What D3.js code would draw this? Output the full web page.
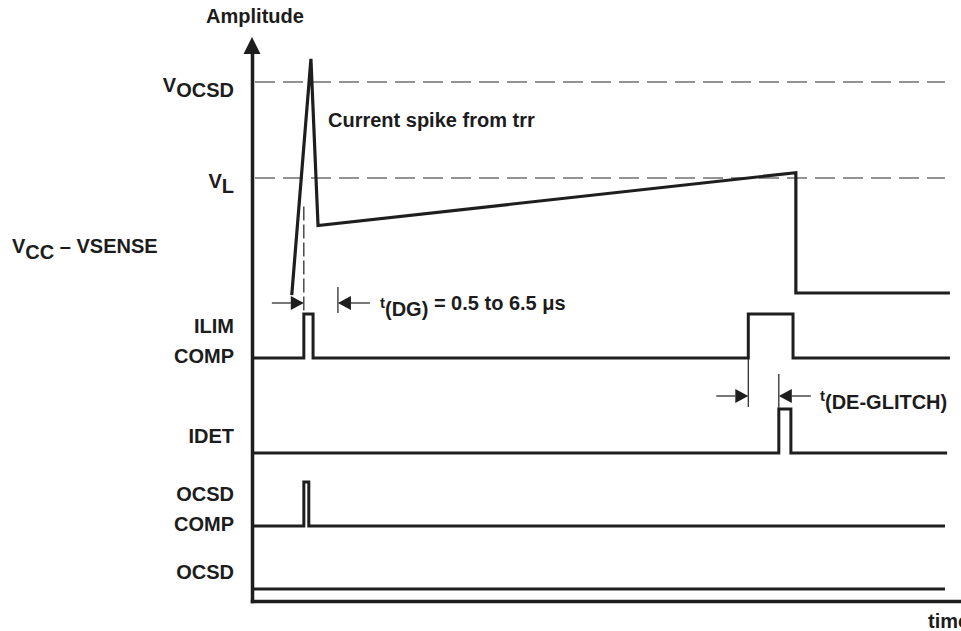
<!DOCTYPE html>
<html>
<head>
<meta charset="utf-8">
<script src="https://cdn.jsdelivr.net/npm/d3@7"></script>
<style>
  body { margin: 0; background: #fff; }
  text { font-family: "Liberation Sans", Arial, sans-serif; font-weight: bold; fill: #1c1c1c; }
</style>
</head>
<body>
<svg id="chart"></svg>
<script>
// time runs 0..100 (arbitrary units), amplitude 0..1 where 1 = VOCSD
const vSense = [[5.6, -0.01], [8.3, 1.11], [9.3, 0.32], [76.6, 0.57], [76.6, 0], [98.3, 0]]
const thresholds = [{ main: 'V', sub: 'OCSD', level: 1 }, { main: 'V', sub: 'L', level: 0.545 }]

// digital traces: [time, 0/1]
const ilimComp = [[0, 0], [7.3, 1], [8.6, 0], [69.9, 1], [76.2, 0], [98.3, 0]]
const idet = [[0, 0], [74.2, 1], [75.9, 0], [97.9, 0]]
const ocsdComp = [[0, 0], [7.3, 1], [8.0, 0], [97.6, 0]]
const ocsd = [[0, 0], [97.6, 0]]

const dgWindow = [7.3, 12.1]
const deglitchWindow = [69.9, 74.2]
const spikeStart = 0.41

const w = 961
const h = 631
const ink = '#1e1e1e'

const svg = d3.select('#chart')
    .attr('width', w)
    .attr('height', h)

const xScale = d3.scaleLinear()
    .domain([0, 100])
    .range([252, 962]);
const yAmp = d3.scaleLinear()
    .domain([0, 1])
    .range([293, 82]);
// whole left axis, only the domain line is drawn
const yAxisScale = d3.scaleLinear()
    .domain([0, 1])
    .range([601, 52]);

// baseline of each digital row, high level is 44px above
const rows = [
    { data: ilimComp, base: 358, labels: ['ILIM', 'COMP'] },
    { data: idet, base: 453, labels: ['IDET'] },
    { data: ocsdComp, base: 526, labels: ['OCSD', 'COMP'] },
    { data: ocsd, base: 589, labels: ['OCSD'] }
]
const rowHigh = 44

// axes
svg.append('g')
    .attr('transform', 'translate(252, 0)')
    .call(d3.axisLeft(yAxisScale).ticks(0).tickSizeOuter(0))
svg.append('g')
    .attr('transform', 'translate(0, 601)')
    .call(d3.axisBottom(xScale).ticks(0).tickSizeOuter(0))
svg.selectAll('.domain')
    .attr('stroke', ink)
    .attr('stroke-width', 3.5)
    .attr('stroke-linecap', 'square')
svg.append('path')
    .attr('d', 'M252,37 L243.5,54 L260.5,54 Z')
    .attr('fill', ink)

svg.append('text')
    .attr('x', 255)
    .attr('y', 23)
    .attr('text-anchor', 'middle')
    .attr('font-size', 20)
    .text('Amplitude')
svg.append('text')
    .attr('x', 928)
    .attr('y', 628)
    .attr('font-size', 20)
    .text('time')

// threshold lines
svg.selectAll('.thr')
    .data(thresholds)
    .enter()
    .append('line')
    .attr('x1', xScale(0) + 3)
    .attr('x2', xScale(97.6))
    .attr('y1', d => yAmp(d.level))
    .attr('y2', d => yAmp(d.level))
    .attr('stroke', '#707070')
    .attr('stroke-width', 1.6)
    .attr('stroke-dasharray', '20 8')

let thrText = svg.selectAll('.thrlabel')
    .data(thresholds)
    .enter()
    .append('text')
    .attr('x', 234)
    .attr('y', d => yAmp(d.level) + 10)
    .attr('text-anchor', 'end')
    .attr('font-size', 20)
thrText.append('tspan').text(d => d.main)
thrText.append('tspan').attr('dy', 5).text(d => d.sub)

let vcc = svg.append('text')
    .attr('x', 12)
    .attr('y', 253)
    .attr('font-size', 20)
vcc.append('tspan').text('V')
vcc.append('tspan').attr('dy', 6).text('CC')
vcc.append('tspan').attr('dy', -6).text(' \u2013 VSENSE')

// analog trace
const line = d3.line()
    .x(d => xScale(d[0]))
    .y(d => yAmp(d[1]))
svg.append('path')
    .attr('d', line(vSense))
    .attr('fill', 'none')
    .attr('stroke', ink)
    .attr('stroke-width', 3.2)
    .attr('stroke-miterlimit', 12)

svg.append('text')
    .attr('x', 328)
    .attr('y', 127)
    .attr('font-size', 20)
    .text('Current spike from trr')

// digital traces
rows.forEach(r => {
    const yRow = d3.scaleLinear().domain([0, 1]).range([r.base, r.base - rowHigh])
    const step = d3.line()
        .x(d => xScale(d[0]))
        .y(d => yRow(d[1]))
        .curve(d3.curveStepAfter)
    svg.append('path')
        .attr('d', step(r.data))
        .attr('fill', 'none')
        .attr('stroke', ink)
        .attr('stroke-width', 3)
    r.yRow = yRow

    const gap = 30
    const y0 = r.base - (r.labels.length === 2 ? 25 : 10)
    r.labels.forEach((s, i) => {
        svg.append('text')
            .attr('x', 234)
            .attr('y', y0 + i * gap)
            .attr('text-anchor', 'end')
            .attr('font-size', 20)
            .text(s)
    })
})

// timing markers
let thin = (x, y1, y2, dash) => {
    svg.append('line')
        .attr('x1', x).attr('x2', x)
        .attr('y1', y1).attr('y2', y2)
        .attr('stroke', ink)
        .attr('stroke-width', 1.2)
        .attr('stroke-dasharray', dash || null)
}
let arrow = (xTip, y, dir) => {
    // dir = 1 points right, -1 points left
    const len = 13
    const half = 7
    svg.append('path')
        .attr('d', `M${xTip},${y} L${xTip - dir * len},${y - half} L${xTip - dir * len},${y + half} Z`)
        .attr('fill', ink)
    svg.append('line')
        .attr('x1', xTip - dir * len).attr('x2', xTip - dir * (len + 19))
        .attr('y1', y).attr('y2', y)
        .attr('stroke', ink)
        .attr('stroke-width', 1.2)
}

const ilimY = rows[0].yRow
const idetY = rows[1].yRow

// t(DG)
const dgY = 303
thin(xScale(dgWindow[0]), yAmp(spikeStart), ilimY(1), '14 4')
thin(xScale(dgWindow[1]), 287, 313)
arrow(xScale(dgWindow[0]), dgY, 1)
arrow(xScale(dgWindow[1]), dgY, -1)

let dg = svg.append('text')
    .attr('x', 380)
    .attr('y', 310)
    .attr('font-size', 20)
dg.append('tspan').attr('font-size', 15).attr('dy', -2).text('t')
dg.append('tspan').attr('dy', 8).text('(DG)')
dg.append('tspan').attr('dy', -6).text(' = 0.5 to 6.5 \u03bcs')

// t(DE-GLITCH)
const deY = 396
thin(xScale(deglitchWindow[0]), ilimY(0), 407)
thin(xScale(deglitchWindow[1]), 374, idetY(1))
arrow(xScale(deglitchWindow[0]), deY, 1)
arrow(xScale(deglitchWindow[1]), deY, -1)

let de = svg.append('text')
    .attr('x', 820)
    .attr('y', 403)
    .attr('font-size', 20)
de.append('tspan').attr('font-size', 15).attr('dy', -2).text('t')
de.append('tspan').attr('dy', 8).text('(DE-GLITCH)')
</script>
</body>
</html>
